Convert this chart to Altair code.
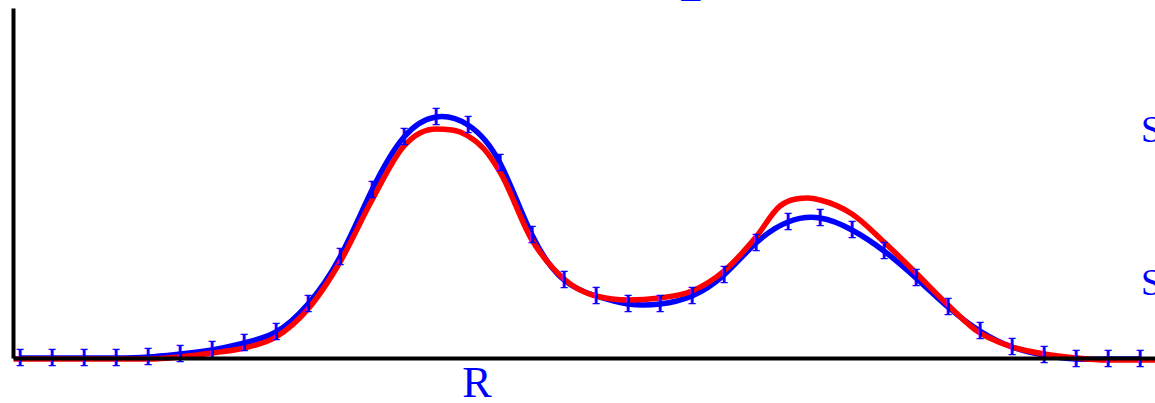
import altair as alt
import pandas as pd

# Sampled curve with uncertainty markers (blue)
r_blue = [0.0, 0.1, 0.2, 0.3, 0.4, 0.5, 0.6, 0.7, 0.8, 0.9,
          1.0, 1.1, 1.2, 1.3, 1.4, 1.5, 1.6, 1.7, 1.8, 1.9,
          2.0, 2.1, 2.2, 2.3, 2.4, 2.5, 2.6, 2.7, 2.8, 2.9,
          3.0, 3.1, 3.2, 3.3, 3.4, 3.5]
g_blue = [0.00, 0.00, 0.00, 0.00, 0.01, 0.04, 0.08, 0.15, 0.26, 0.54,
          1.01, 1.68, 2.21, 2.41, 2.33, 1.95, 1.23, 0.78, 0.62, 0.54,
          0.54, 0.62, 0.83, 1.15, 1.36, 1.40, 1.28, 1.07, 0.80, 0.51,
          0.27, 0.11, 0.03, -0.01, -0.01, -0.01]

# Reference curve (red)
r_red = [-0.02, 0.40, 0.50, 0.60, 0.70, 0.80, 0.90, 1.00, 1.10, 1.20,
         1.25, 1.30, 1.35, 1.40, 1.45, 1.50, 1.60, 1.70, 1.80, 1.90,
         2.00, 2.10, 2.20, 2.30, 2.375, 2.425, 2.4625, 2.50, 2.60, 2.70,
         2.80, 2.90, 3.00, 3.03, 3.10, 3.20, 3.30, 3.40, 3.547]
g_red = [-0.01, -0.01, 0.01, 0.05, 0.10, 0.21, 0.49, 0.96, 1.58, 2.12,
         2.25, 2.29, 2.28, 2.22, 2.09, 1.86, 1.18, 0.79, 0.62, 0.58,
         0.60, 0.67, 0.87, 1.21, 1.52, 1.59, 1.60, 1.58, 1.44, 1.16,
         0.85, 0.53, 0.25, 0.20, 0.11, 0.04, 0.00, -0.02, -0.02]

# Text labels
label_text = ["R", "S", "S", "E"]
label_r = [1.428, 3.503, 3.503, 2.0625]
label_g = [-0.39, 2.16, 0.63, 3.575]
label_size = [44, 37, 37, 37]
label_align = ["center", "left", "left", "left"]

blue = pd.DataFrame({"r": r_blue, "g": g_blue})
red = pd.DataFrame({"r": r_red, "g": g_red})
labels = pd.DataFrame({"t": label_text, "r": label_r, "g": label_g,
                       "s": label_size, "a": label_align})

x_scale = alt.Scale(domain=[-0.022, 3.547], nice=False, zero=False)
y_scale = alt.Scale(domain=[0, 3.5], nice=False, zero=False)

x_axis = alt.Axis(domain=True, domainColor="black", domainWidth=4,
                  ticks=False, labels=False, grid=False, title=None, zindex=1)
y_axis = alt.Axis(domain=True, domainColor="black", domainWidth=4,
                  ticks=False, labels=False, grid=False, title=None, zindex=1)

X = alt.X("r:Q", scale=x_scale, axis=x_axis)
Y = alt.Y("g:Q", scale=y_scale, axis=y_axis)

blue_line = alt.Chart(blue).mark_line(
    color="#0000ff", strokeWidth=5.5, interpolate="natural"
).encode(x=X, y=Y)

red_line = alt.Chart(red).mark_line(
    color="#ff0000", strokeWidth=5.5, interpolate="monotone"
).encode(x=X, y=Y)

markers = alt.Chart(blue).mark_text(
    text="I", font="Liberation Serif", fontSize=26, color="#0000ff",
    stroke="#0000ff", strokeWidth=0.4,
    align="center", baseline="middle"
).encode(x=X, y=Y)

def label_layer(df):
    return alt.Chart(df).mark_text(
        font="Liberation Serif", color="#0000ff", baseline="alphabetic",
        align=df["a"].iloc[0], fontSize=int(df["s"].iloc[0])
    ).encode(x=X, y=Y, text="t:N")

label_layers = [label_layer(labels.iloc[[i]]) for i in range(len(labels))]

chart = alt.layer(blue_line, red_line, markers, *label_layers).properties(
    width=1142,
    height=350,
    autosize=alt.AutoSizeParams(type="none"),
    padding={"left": 13, "top": 8, "right": 0, "bottom": 45},
    background="white",
).configure_view(stroke=None)

chart.save("out.html", embed_options={"renderer": "svg", "actions": False})
